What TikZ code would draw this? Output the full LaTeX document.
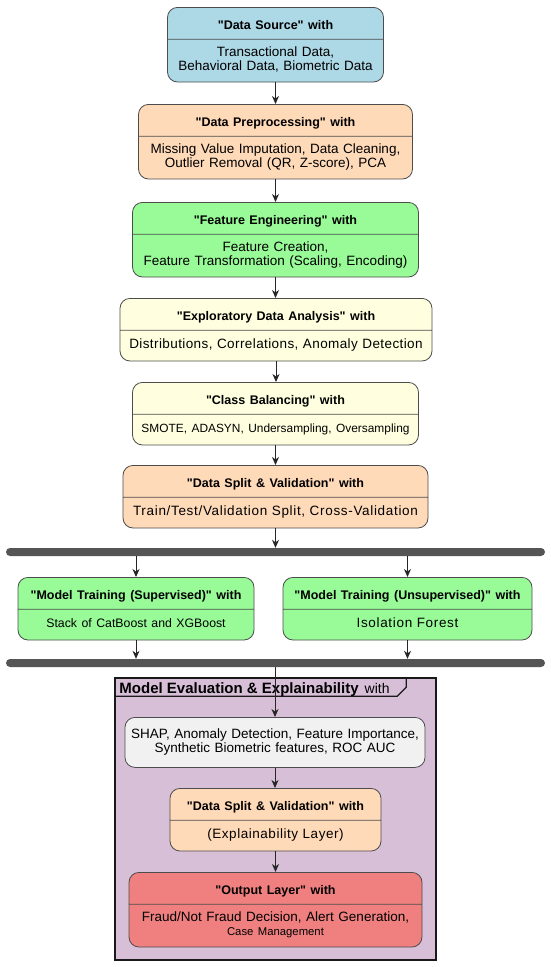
\documentclass[tikz,border=0pt]{standalone}
\usepackage{fontspec}
\setmainfont{Liberation Sans}[Ligatures=TeXOff]
\definecolor{srcblue}{HTML}{ADD8E6}
\definecolor{peach}{HTML}{FFDAB9}
\definecolor{mintgreen}{HTML}{98FB98}
\definecolor{cream}{HTML}{FFFFE0}
\definecolor{shapgray}{HTML}{F1F1F1}
\definecolor{coral}{HTML}{F08080}
\definecolor{thistle}{HTML}{D8BFD8}
\definecolor{bargray}{HTML}{555555}
\usetikzlibrary{arrows.meta, shapes.multipart, calc}
\newcommand{\hdr}[1]{\rule[-9.5pt]{0pt}{31pt}{\fontsize{12.5}{14}\selectfont\bfseries #1}}
\newcommand{\bodyone}[1]{\rule[-12.5pt]{0pt}{30pt}#1}
\newcommand{\bodytwo}[2]{\rule{0pt}{17pt}#1\\#2\rule[-11pt]{0pt}{11pt}}
\newcommand{\spaced}[2]{{\addfontfeature{LetterSpace=#1}#2}}
\tikzset{
	stage/.style={rectangle split, rectangle split parts=2, rounded corners=10pt, draw=black!70, line width=0.8pt, inner xsep=0pt, inner ysep=0pt, align=center, anchor=north, font=\fontsize{13.5}{14}\selectfont},
	plainstage/.style={rectangle, rounded corners=10pt, draw=black!70, line width=0.8pt, inner sep=0pt, align=center, anchor=north, font=\fontsize{13.5}{14}\selectfont},
	bar/.style={rectangle, rounded corners=4pt, fill=bargray, inner sep=0pt, minimum width=539pt, minimum height=8pt},
	evalframe/.style={rectangle, draw=black!90, fill=thistle, line width=1.5pt, inner sep=0pt, minimum width=321pt, minimum height=282pt},
	tabline/.style={draw=black!90, line width=1.2pt},
	arrow/.style={-{Stealth[length=8pt, width=7pt, inset=2.5pt]}, line width=0.9pt, draw=black!85},
}
\begin{document}
\begin{tikzpicture}[x=1pt, y=-1pt]
	\useasboundingbox (0,0) rectangle (550,967);
	% main chain
	\node[stage, fill=srcblue, text width=216pt] (src) at (275.5,7) {\hdr{"Data Source" with}\nodepart{two}\bodytwo{Transactional Data,}{Behavioral Data, Biometric Data}};
	\node[stage, fill=peach, text width=274pt] (prep) at (275.5,104) {\hdr{"Data Preprocessing" with}\nodepart{two}\bodytwo{Missing Value Imputation, Data Cleaning,}{Outlier Removal (QR, Z-score), PCA}};
	\node[stage, fill=mintgreen, text width=286pt] (feat) at (275.5,202) {\hdr{"Feature Engineering" with}\nodepart{two}\bodytwo{Feature Creation,}{Feature Transformation (Scaling, Encoding)}};
	\node[stage, fill=cream, text width=312pt] (eda) at (276,298) {\hdr{"Exploratory Data Analysis" with}\nodepart{two}\bodyone{\spaced{3}{Distributions, Correlations, Anomaly Detection}}};
	\node[stage, fill=cream, text width=286pt] (balance) at (275.5,382) {\hdr{"Class Balancing" with}\nodepart{two}\bodyone{{\fontsize{11.9}{13}\selectfont SMOTE, ADASYN, Undersampling, Oversampling}}};
	\node[stage, fill=peach, text width=305pt] (split) at (275.5,465) {\hdr{"Data Split \& Validation" with}\nodepart{two}\bodyone{\spaced{5}{Train/Test/Validation Split, Cross-Validation}}};
	% fork and join bars
	\node[bar] (fork) at (275.5,552) {};
	\node[stage, fill=mintgreen, text width=236pt] (sup) at (136,577) {\hdr{"Model Training (Supervised)" with}\nodepart{two}\bodyone{{\fontsize{12.3}{13}\selectfont Stack of CatBoost and XGBoost}}};
	\node[stage, fill=mintgreen, text width=249pt] (unsup) at (407.5,577) {\hdr{"Model Training (Unsupervised)" with}\nodepart{two}\bodyone{\spaced{5}{Isolation Forest}}};
	\node[bar] (join) at (275.5,663) {};
	% evaluation frame
	\node[evalframe] (evalbox) at (275.5,819) {};
	\draw[tabline] ($(evalbox.north west)+(0,19)$) -- ++(283,0) -- ++(9,-9) -- ++(0,-10);
	\node[anchor=base west, inner sep=0pt] (evaltitle) at ($(evalbox.north west)+(5,16)$) {{\fontsize{15}{17}\selectfont\bfseries Model Evaluation \& Explainability}\hspace{6pt}{\fontsize{14}{16}\selectfont with}};
	\node[plainstage, fill=shapgray, text width=300pt, minimum height=50pt] (shap) at (275,717) {SHAP, Anomaly Detection, Feature Importance,\\Synthetic Biometric features, ROC AUC};
	\node[stage, fill=peach, text width=211pt] (isplit) at (275.5,788) {\hdr{"Data Split \& Validation" with}\nodepart{two}\bodyone{\spaced{4}{(Explainability Layer)}}};
	\node[stage, fill=coral, text width=293pt] (out) at (275.5,872) {\hdr{"Output Layer" with}\nodepart{two}\bodytwo{Fraud/Not Fraud Decision, Alert Generation,}{{\fontsize{11.3}{13}\selectfont Case Management}}};
	% connectors
	\foreach \a/\b in {src/prep, prep/feat, feat/eda, eda/balance, balance/split, shap/isplit, isplit/out}{\draw[arrow] (\a.south) -- (\a.south |- \b.north);}
	\draw[arrow] (split.south) -- (split.south |- fork.north);
	\foreach \x in {sup,unsup}{\draw[arrow] (fork.south -| \x.north) -- (\x.north); \draw[arrow] (\x.south) -- (\x.south |- join.north);}
	\draw[arrow] (join.south -| shap.north) -- (shap.north);
\end{tikzpicture}
\end{document}
